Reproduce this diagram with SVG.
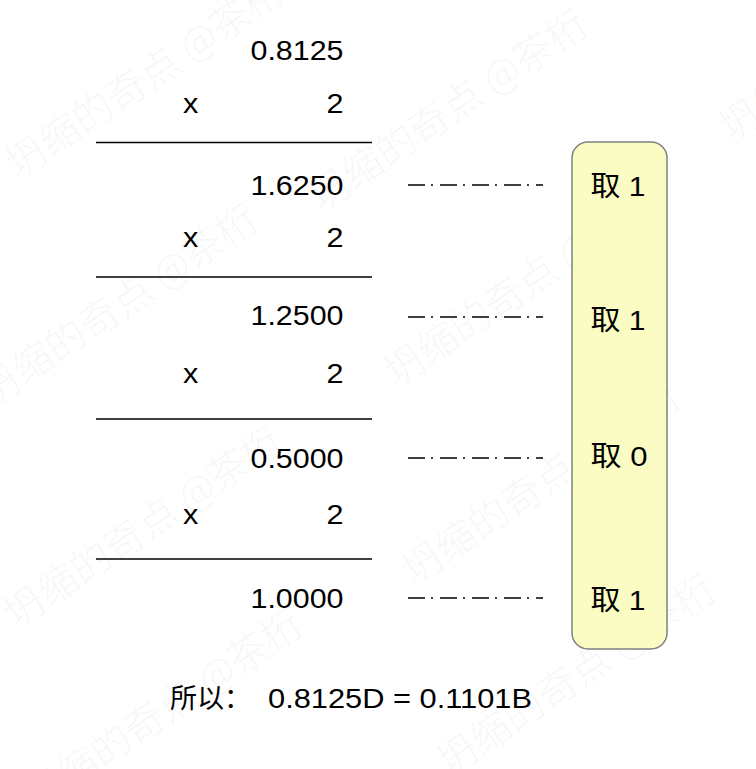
<svg xmlns="http://www.w3.org/2000/svg" width="756" height="769" viewBox="0 0 756 769">
<style>
.num{font-family:"Liberation Sans",Arial,sans-serif;font-size:28px;fill:#000}
.cjk{font-family:"Liberation Sans","Noto Sans CJK SC",sans-serif;font-size:27px;fill:#000}
.bit{font-family:"Liberation Sans","Noto Sans CJK SC",sans-serif;font-size:28px;fill:#000}
.rule{stroke:#000;stroke-width:1.5}
.dd{stroke:#000;stroke-width:1.3;stroke-dasharray:17 6 2 7;fill:none}
.wm{font-family:"Noto Sans CJK SC",sans-serif;font-size:40px;font-weight:300;fill:#000;fill-opacity:0.055}
.box{fill:#fafcc4;stroke:#808080;stroke-width:1.5}
</style>
<rect width="756" height="769" fill="#fff"/>
<g id="watermark">
<text class="wm" transform="translate(18,180) rotate(-34)">坍缩的奇点 @茶桁</text>
<text class="wm" transform="translate(-9,408) rotate(-34)">坍缩的奇点 @茶桁</text>
<text class="wm" transform="translate(16,630) rotate(-34)">坍缩的奇点 @茶桁</text>
<text class="wm" transform="translate(36,813) rotate(-34)">坍缩的奇点 @茶桁</text>
<text class="wm" transform="translate(321,213) rotate(-34)">坍缩的奇点 @茶桁</text>
<text class="wm" transform="translate(396,388) rotate(-34)">坍缩的奇点 @茶桁</text>
<text class="wm" transform="translate(414,586) rotate(-34)">坍缩的奇点 @茶桁</text>
<text class="wm" transform="translate(449,778) rotate(-34)">坍缩的奇点 @茶桁</text>
<text class="wm" transform="translate(731,143) rotate(-34)">坍缩的奇点 @茶桁</text>
</g>
<g id="calc">
<text class="num" x="343.5" y="59.5" text-anchor="end" textLength="93" lengthAdjust="spacingAndGlyphs">0.8125</text>
<text class="num" x="183" y="112.5" textLength="15.3" lengthAdjust="spacingAndGlyphs">x</text>
<text class="num" x="343.5" y="112.5" text-anchor="end" textLength="17" lengthAdjust="spacingAndGlyphs">2</text>
<line class="rule" x1="96" y1="142.5" x2="372" y2="142.5"/>
<text class="num" x="343.5" y="195" text-anchor="end" textLength="93" lengthAdjust="spacingAndGlyphs">1.6250</text>
<text class="num" x="183" y="246.5" textLength="15.3" lengthAdjust="spacingAndGlyphs">x</text>
<text class="num" x="343.5" y="246.5" text-anchor="end" textLength="17" lengthAdjust="spacingAndGlyphs">2</text>
<line class="rule" x1="96" y1="277" x2="372" y2="277"/>
<text class="num" x="343.5" y="325" text-anchor="end" textLength="93" lengthAdjust="spacingAndGlyphs">1.2500</text>
<text class="num" x="183" y="383" textLength="15.3" lengthAdjust="spacingAndGlyphs">x</text>
<text class="num" x="343.5" y="383" text-anchor="end" textLength="17" lengthAdjust="spacingAndGlyphs">2</text>
<line class="rule" x1="96" y1="419" x2="372" y2="419"/>
<text class="num" x="343.5" y="467.5" text-anchor="end" textLength="93" lengthAdjust="spacingAndGlyphs">0.5000</text>
<text class="num" x="183" y="524" textLength="15.3" lengthAdjust="spacingAndGlyphs">x</text>
<text class="num" x="343.5" y="524" text-anchor="end" textLength="17" lengthAdjust="spacingAndGlyphs">2</text>
<line class="rule" x1="96" y1="559" x2="372" y2="559"/>
<text class="num" x="343.5" y="607.5" text-anchor="end" textLength="93" lengthAdjust="spacingAndGlyphs">1.0000</text>
</g>
<g id="connectors">
<line class="dd" x1="408" y1="185" x2="543" y2="185"/>
<line class="dd" x1="408" y1="317" x2="543" y2="317"/>
<line class="dd" x1="408" y1="458" x2="543" y2="458"/>
<line class="dd" x1="408" y1="598" x2="543" y2="598"/>
</g>
<g id="bits">
<rect class="box" x="572" y="142" width="95" height="507" rx="16" ry="16"/>
<text class="bit" x="618" y="196" text-anchor="middle" textLength="55" lengthAdjust="spacingAndGlyphs">取 1</text>
<text class="bit" x="618" y="330" text-anchor="middle" textLength="55" lengthAdjust="spacingAndGlyphs">取 1</text>
<text class="bit" x="619" y="466" text-anchor="middle" textLength="57" lengthAdjust="spacingAndGlyphs">取 0</text>
<text class="bit" x="618" y="610" text-anchor="middle" textLength="55" lengthAdjust="spacingAndGlyphs">取 1</text>
</g>
<g id="result">
<text class="cjk" x="170" y="708">所以：</text>
<text class="num" x="268" y="708" textLength="264" lengthAdjust="spacingAndGlyphs">0.8125D = 0.1101B</text>
</g>
</svg>
